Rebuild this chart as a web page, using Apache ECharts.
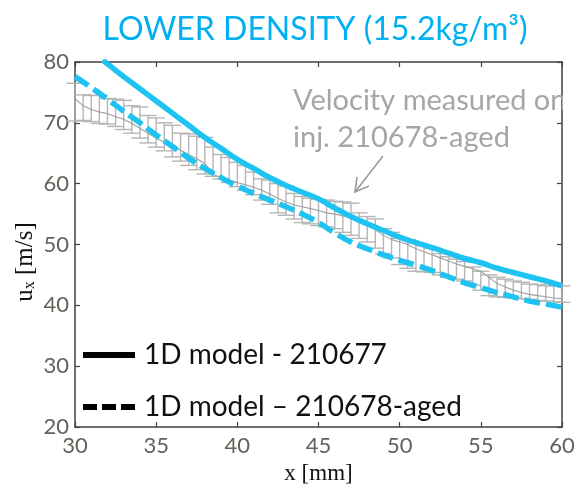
<!DOCTYPE html>
<html>
<head>
<meta charset="utf-8">
<script src="https://cdn.jsdelivr.net/npm/echarts@6/dist/echarts.min.js"></script>
<style>html,body{margin:0;padding:0;background:#fff;}#c{width:585px;height:490px;}</style>
</head>
<body>
<div id="c"></div>
<script>
// ---- data ----
const modelX677 = [31.7,32,33,34,35,36,37,38,39,40,41,42,43,44,45,46,47,48,49,50,51,52,53,54,55,56,57,58,59,60];
const modelY677 = [80.3,79.7,77.6,75.6,73.6,71.6,69.6,67.6,65.8,64.0,62.5,61.0,59.7,58.6,57.5,56.0,54.6,53.4,52.3,51.2,50.3,49.5,48.6,47.7,47.0,46.1,45.4,44.7,44.0,43.2];
const modelX678 = [30,31,32,33,34,35,36,37,38,39,40,41,42,43,44,45,46,47,48,49,50,51,52,53,54,55,56,57,58,59,60];
const modelY678 = [77.6,75.8,73.9,71.9,70.0,68.0,66.1,64.2,62.5,61.0,59.6,58.4,57.3,56.2,55.0,53.6,51.9,50.4,49.3,48.3,47.4,46.6,45.7,44.7,43.7,42.9,42.1,41.4,40.7,40.2,39.7];
const measX = [30,30.5,31,31.5,32,32.5,33,33.5,34,34.5,35,35.5,36,36.5,37,37.5,38,38.5,39,39.5,40,40.5,41,41.5,42,42.5,43,43.5,44,44.5,45,45.5,46,46.5,47,47.5,48,48.5,49,49.5,50,50.5,51,51.5,52,52.5,53,53.5,54,54.5,55,55.5,56,56.5,57,57.5,58,58.5,59,59.5,60];
const measMean = [74.0,72.8,72.2,71.8,71.5,71.0,70.6,69.9,69.1,68.3,67.5,66.8,66.2,65.5,64.8,64.1,63.3,61.6,60.9,60.6,60.2,59.8,59.4,58.9,58.3,57.6,57.0,56.5,56.2,55.9,55.6,55.2,55.0,54.7,54.4,54.0,53.2,52.4,51.5,50.8,50.4,50.0,49.3,48.8,48.3,47.8,47.3,46.8,46.4,46.0,45.6,44.6,43.6,43.0,42.5,42.1,41.8,41.6,41.4,41.2,41.1];
const measLower = [70.3,70.4,70.2,69.9,69.8,69.4,68.9,68.3,67.5,66.7,66.0,65.4,64.4,63.7,63.0,62.3,61.6,61.2,60.8,60.2,59.5,58.9,58.2,57.3,56.6,55.2,54.8,54.2,53.6,53.4,53.1,52.9,52.6,52.0,51.5,51.0,50.4,49.4,48.5,47.8,46.7,46.1,45.6,45.5,45.4,45.0,44.6,44.3,44.0,43.3,42.5,41.6,41.4,41.3,41.2,41.1,41.0,40.8,40.7,40.6,40.5];
const measUpper = [76.5,74.6,74.5,74.5,74.0,73.9,73.7,72.8,72.6,71.2,70.8,70.0,69.6,68.3,68.2,67.8,67.6,66.0,64.8,64.3,63.5,63.0,61.9,60.8,60.6,60.0,59.6,58.4,57.9,57.6,57.4,57.3,57.1,57.0,56.8,55.2,54.6,54.2,52.6,52.0,51.0,50.8,50.3,49.8,49.4,48.5,48.0,47.6,47.2,46.3,45.6,45.0,44.6,44.3,44.0,43.8,43.5,43.4,43.2,43.2,43.2];
const xTicks = [30,35,40,45,50,55,60];
const yTicks = [20,30,40,50,60,70,80];
const titleText = 'LOWER DENSITY (15.2kg/m\u00B3)';
const name677 = '1D model - 210677';
const name678 = '1D model \u2013 210678-aged';
const noteLines = ['Velocity measured on', 'inj. 210678-aged'];

// ---- styling ----
const CYAN = '#1EC3F2';
const AXC = '#404040';
const TICKC = '#66605a';
const SANS = 'Lato, "Open Sans", sans-serif';
const SERIF = '"Liberation Serif", "DejaVu Serif", serif';

const chart = echarts.init(document.getElementById('c'), null, {renderer: 'canvas'});

const axisCommon = {
  type: 'value',
  axisLine: {show: true, onZero: false, lineStyle: {color: AXC, width: 1.5}},
  axisTick: {show: true, inside: true, length: 5, lineStyle: {color: AXC, width: 1.2}},
  splitLine: {show: false}
};

const option = {
  backgroundColor: '#fff',
  animation: false,
  grid: {left: 75, right: 23, top: 62, bottom: 53, containLabel: false},
  xAxis: [
    Object.assign({}, axisCommon, {
      min: xTicks[0], max: xTicks[xTicks.length-1], interval: 5,
      name: 'x [mm]', nameLocation: 'middle', nameGap: 35,
      nameTextStyle: {fontFamily: SERIF, fontSize: 23, color: '#111'},
      axisLabel: {fontFamily: SANS, fontSize: 22, color: TICKC, margin: 8}
    }),
    Object.assign({}, axisCommon, {
      position: 'top', min: 30, max: 60, interval: 5,
      axisLabel: {show: false}
    })
  ],
  yAxis: [
    Object.assign({}, axisCommon, {
      min: yTicks[0], max: yTicks[yTicks.length-1], interval: 10,
      axisLabel: {fontFamily: SANS, fontSize: 22, color: TICKC, margin: 6}
    }),
    Object.assign({}, axisCommon, {
      position: 'right', min: 20, max: 80, interval: 10,
      axisLabel: {show: false}
    })
  ],
  series: [
    {
      type: 'custom', name: 'errbars', silent: true, z: 1,
      renderItem: function (params, api) {
        const x = api.value(0);
        const lo = api.coord([x, api.value(1)]);
        const hi = api.coord([x, api.value(2)]);
        const hw = 8.5;
        const st = {stroke: '#b5b5b5', lineWidth: 1.4};
        return {type: 'group', children: [
          {type: 'line', shape: {x1: lo[0], y1: lo[1], x2: hi[0], y2: hi[1]}, style: st},
          {type: 'line', shape: {x1: lo[0]-hw, y1: lo[1], x2: lo[0]+hw, y2: lo[1]}, style: st},
          {type: 'line', shape: {x1: hi[0]-hw, y1: hi[1], x2: hi[0]+hw, y2: hi[1]}, style: st}
        ]};
      },
      data: measX.map((x, i) => [x, measLower[i], measUpper[i]])
    },
    {
      type: 'line', name: 'mean', silent: true, z: 2, symbol: 'none',
      lineStyle: {color: '#a0a0a0', width: 1.1},
      data: measX.map((x, i) => [x, measMean[i]])
    },
    {
      type: 'line', name: name678, z: 3, symbol: 'none', smooth: 0.5,
      lineStyle: {color: CYAN, width: 5.5, type: [16, 6], cap: 'butt'},
      data: modelX678.map((x, i) => [x, modelY678[i]])
    },
    {
      type: 'line', name: name677, z: 4, symbol: 'none', smooth: 0.5,
      lineStyle: {color: CYAN, width: 5.5},
      data: modelX677.map((x, i) => [x, modelY677[i]])
    }
  ],
  graphic: [
    {type: 'text', x: 315, y: 14, z: 10,
      style: {text: titleText, fontFamily: SANS, fontSize: 32, fill: '#00B0F0', align: 'center', verticalAlign: 'top'}},
    {type: 'text', x: 293, y: 101, z: 10, style: {text: noteLines[0], fontFamily: SANS, fontSize: 29, fill: '#a6a6a6', verticalAlign: 'middle'}},
    {type: 'text', x: 293, y: 138, z: 10, style: {text: noteLines[1], fontFamily: SANS, fontSize: 29, fill: '#a6a6a6', verticalAlign: 'middle'}},
    {type: 'rect', z: 11, shape: {x: 563, y: 64, width: 22, height: 80}, style: {fill: '#fff'}},
    {type: 'polyline', z: 10, shape: {points: [[383,156],[355,192]]}, style: {stroke: '#9a9a9a', lineWidth: 1.6, fill: null}},
    {type: 'polyline', z: 10, shape: {points: [[357,177],[355,192],[369,186]]}, style: {stroke: '#9a9a9a', lineWidth: 1.6, fill: null}},
    {type: 'text', x: 25, y: 262, rotation: Math.PI/2, z: 10, style: {text: '{u|u}{s|x}{u| [m/s]}', align: 'center', verticalAlign: 'middle',
      rich: {u: {fontFamily: SERIF, fontSize: 25, fill: '#111'}, s: {fontFamily: SERIF, fontSize: 16, fill: '#111', padding: [9,0,0,0]}}}},
    // legend
    {type: 'line', z: 10, shape: {x1: 83, y1: 355, x2: 135, y2: 355}, style: {stroke: '#000', lineWidth: 6}},
    {type: 'text', x: 144, y: 355, z: 10, style: {text: name677, fontFamily: SANS, fontSize: 28, fill: '#111', verticalAlign: 'middle'}},
    {type: 'line', z: 10, shape: {x1: 83, y1: 407, x2: 135, y2: 407}, style: {stroke: '#000', lineWidth: 6, lineDash: [14, 5]}},
    {type: 'text', x: 144, y: 407, z: 10, style: {text: name678, fontFamily: SANS, fontSize: 28, fill: '#111', verticalAlign: 'middle'}}
  ]
};
chart.setOption(option);
</script>
</body>
</html>
